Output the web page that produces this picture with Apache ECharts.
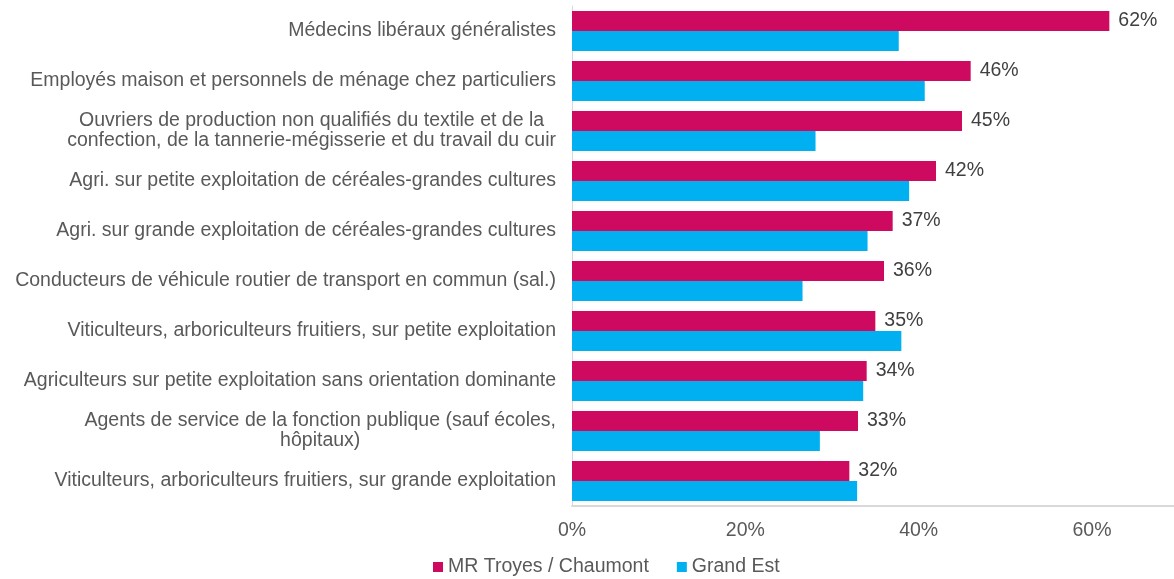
<!DOCTYPE html>
<html>
<head>
<meta charset="utf-8">
<script src="https://cdn.jsdelivr.net/npm/echarts@6/dist/echarts.min.js"></script>
<style>
  html, body { margin: 0; padding: 0; background: #fff; }
  #chart { width: 1174px; height: 579px; }
</style>
</head>
<body>
<div id="chart"></div>
<script>
var categories = [
  "Médecins libéraux généralistes",
  "Employés maison et personnels de ménage chez particuliers",
  "Ouvriers de production non qualifiés du textile et de la\nconfection, de la tannerie-mégisserie et du travail du cuir",
  "Agri. sur petite exploitation de céréales-grandes cultures",
  "Agri. sur grande exploitation de céréales-grandes cultures",
  "Conducteurs de véhicule routier de transport en commun (sal.)",
  "Viticulteurs, arboriculteurs fruitiers, sur petite exploitation",
  "Agriculteurs sur petite exploitation sans orientation dominante",
  "Agents de service de la fonction publique (sauf écoles,\nhôpitaux)",
  "Viticulteurs, arboriculteurs fruitiers, sur grande exploitation"
];
var mrValues = [62, 46, 45, 42, 37, 36, 35, 34, 33, 32];
var grandEstValues = [37.7, 40.7, 28.1, 38.9, 34.1, 26.6, 38.0, 33.6, 28.6, 32.9];
var seriesNames = ["MR Troyes / Chaumont", "Grand Est"];

var chart = echarts.init(document.getElementById("chart"));
var font = "Liberation Sans, Arial, sans-serif";

option = {
  animation: false,
  textStyle: { fontFamily: font },
  grid: { left: 572, top: 6, right: 0, height: 500 },
  legend: {
    left: 428,
    top: 552,
    icon: "rect",
    itemWidth: 10,
    itemHeight: 10,
    itemGap: 28,
    textStyle: { color: "#595959", fontSize: 19.5, fontFamily: font },
    data: seriesNames
  },
  xAxis: {
    type: "value",
    min: 0,
    max: 69.46,
    interval: 20,
    splitLine: { show: false },
    axisTick: { show: false },
    axisLine: { show: true, lineStyle: { color: "#d9d9d9", width: 2 } },
    axisLabel: {
      color: "#595959",
      fontSize: 19.5,
      fontFamily: font,
      margin: 15,
      showMaxLabel: false,
      formatter: "{value}%"
    }
  },
  yAxis: {
    type: "category",
    inverse: true,
    data: categories,
    axisTick: { show: false },
    axisLine: { show: true, lineStyle: { color: "#d9d9d9", width: 1 } },
    axisLabel: {
      color: "#595959",
      fontSize: 19.5,
      fontFamily: font,
      margin: 16,
      lineHeight: 20,
      formatter: function (v) {
        return v.split("\n").map(function (l) { return "{c|" + l + "}"; }).join("\n");
      },
      rich: {
        c: { align: "center", color: "#595959", fontSize: 19.5, fontFamily: font, lineHeight: 20 }
      }
    }
  },
  series: [
    {
      name: seriesNames[0],
      type: "bar",
      data: mrValues,
      barGap: "0%",
      barCategoryGap: "20%",
      itemStyle: { color: "#CE0A60" },
      label: {
        show: true,
        position: "right",
        distance: 9,
        color: "#404040",
        fontSize: 19.5,
        fontFamily: font,
        formatter: "{c}%"
      }
    },
    {
      name: seriesNames[1],
      type: "bar",
      data: grandEstValues,
      barGap: "0%",
      barCategoryGap: "20%",
      itemStyle: { color: "#00B0F0" }
    }
  ]
};
chart.setOption(option);
</script>
</body>
</html>
